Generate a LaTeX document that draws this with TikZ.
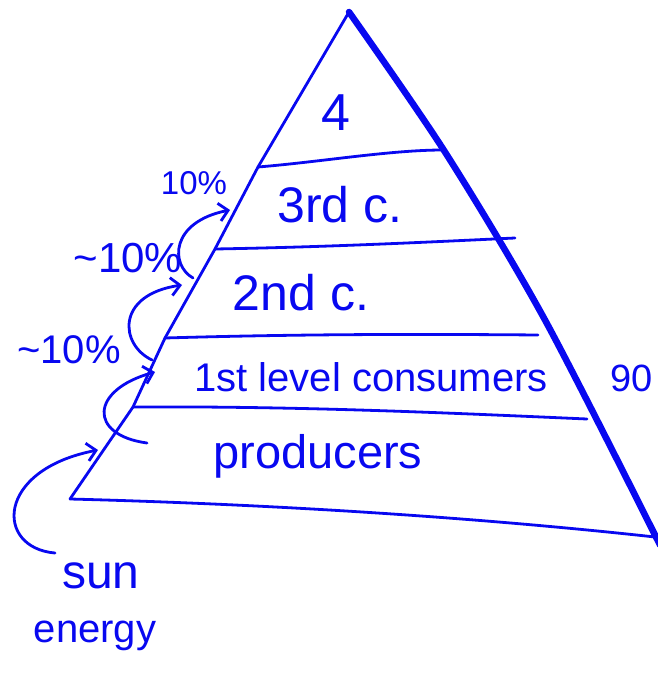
\documentclass[tikz,border=0pt]{standalone}
\usepackage{fontspec}
\setmainfont{Liberation Sans}
\usetikzlibrary{arrows.meta}
\definecolor{ink}{RGB}{8,8,240}
\begin{document}
\begin{tikzpicture}[x=1pt,y=-1pt,
  pen/.style={draw=ink,line width=2.8pt,line cap=round,line join=round},
  heavypen/.style={draw=ink,line width=6.5pt,line cap=round,line join=round},
  flow/.style={pen,-{Straight Barb[length=9pt,width=18pt,line width=2.8pt]}},
  lbl/.style={text=ink,inner sep=0pt}]
\useasboundingbox (0,0) rectangle (657,700);
% outline points
\coordinate (apex) at (349,12);
\coordinate (l1) at (258,167);
\coordinate (l2) at (215,249);
\coordinate (l3) at (165,338);
\coordinate (l4) at (133,407);
\coordinate (l5) at (70,499);
\coordinate (r1) at (443,150);
\coordinate (r2) at (515,238);
\coordinate (r3) at (538,335);
\coordinate (r4) at (587,419);
\coordinate (r5) at (655,537);
% left edge
\draw[pen] (apex) -- (l1) -- (l2) -- (l3) -- (l4) -- (l5);
% right edge
\draw[heavypen] plot[smooth,tension=0.5] coordinates {(349,12) (445,152) (545,320) (660,545)};
% level lines
\draw[pen] (l1) .. controls (320,162) and (390,150) .. (r1);
\draw[pen] (l2) .. controls (330,247) and (430,242) .. (r2);
\draw[pen] (l3) .. controls (300,334) and (420,334) .. (r3);
\draw[pen] (l4) .. controls (300,406) and (450,413) .. (r4);
\draw[pen] (l5) .. controls (300,505) and (500,520) .. (r5);
% labels
\node[lbl,font=\fontsize{52}{56}\selectfont] (top) at (336,113) {4};
\node[lbl,font=\fontsize{50}{54}\selectfont] (third) at (340,205) {3rd c.};
\node[lbl,font=\fontsize{50}{54}\selectfont] (second) at (301,293) {2nd c.};
\node[lbl,font=\fontsize{40}{44}\selectfont] (first) at (371,377) {1st level consumers};
\node[lbl,font=\fontsize{47}{50}\selectfont] (prod) at (318,456) {producers};
\node[lbl,anchor=west,font=\fontsize{38}{42}\selectfont] (ninety) at (610,378) {90};
\node[lbl,font=\fontsize{33}{36}\selectfont] (pa) at (194,183) {10\%};
\node[lbl,font=\fontsize{42}{46}\selectfont] (pb) at (128,258) {\textasciitilde10\%};
\node[lbl,font=\fontsize{40}{44}\selectfont] (pc) at (69,350) {\textasciitilde10\%};
\node[lbl,font=\fontsize{48}{52}\selectfont] (sun) at (101,576) {sun};
\node[lbl,font=\fontsize{40}{44}\selectfont] (energy) at (95,636) {energy};
% arrows
\coordinate (s0) at (55,553);
\coordinate (s1) at (98,450);
\coordinate (a0) at (147,443);
\coordinate (a1) at (155,372);
\coordinate (b0) at (152,360);
\coordinate (b1) at (182,285);
\coordinate (c0) at (193,278);
\coordinate (c1) at (230,210);
\draw[flow] (s0) .. controls (-5,548) and (-5,470) .. (s1);
\draw[flow] (a0) .. controls (88,435) and (90,390) .. (a1);
\draw[flow] (b0) .. controls (120,345) and (115,295) .. (b1);
\draw[flow] (c0) .. controls (170,265) and (170,222) .. (c1);
\end{tikzpicture}
\end{document}
